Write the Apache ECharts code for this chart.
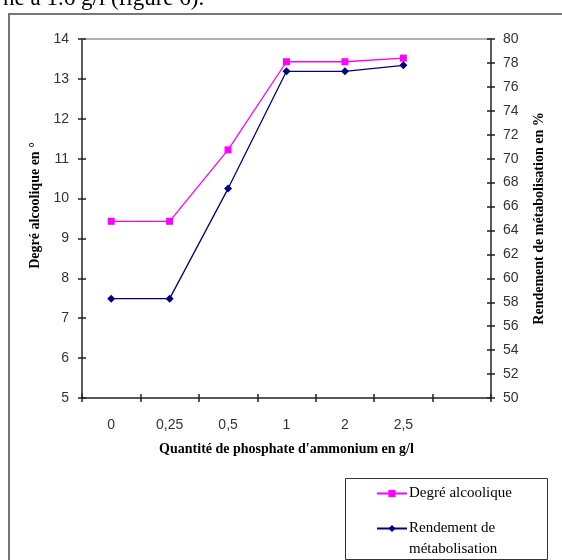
<!DOCTYPE html>
<html>
<head>
<meta charset="utf-8">
<script src="https://cdn.jsdelivr.net/npm/echarts@6/dist/echarts.min.js"></script>
<style>html,body{margin:0;padding:0;background:#fff;}#c{width:562px;height:560px;}</style>
</head>
<body>
<div id="c"></div>
<script>
const categories = ['0', '0,25', '0,5', '1', '2', '2,5', ''];
const degreAlcoolique = [9.43, 9.43, 11.22, 13.43, 13.43, 13.52];
const rendement = [58.3, 58.3, 67.5, 77.3, 77.3, 77.8];
const leftTicks = { min: 5, max: 14, interval: 1 };
const rightTicks = { min: 50, max: 80, interval: 2 };

const chart = echarts.init(document.getElementById('c'), null, { renderer: 'canvas' });
const sans = 'Liberation Sans';
const serif = 'Liberation Serif';
const gridRect = { left: 82, right: 71, top: 39, bottom: 162 };
const tickLbl = { fontFamily: sans, fontSize: 14, color: '#333' };

chart.setOption({
  animation: false,
  graphic: [
    { type: 'rect', shape: { x: 9, y: 14, width: 600, height: 600 }, style: { fill: 'none', stroke: '#777', lineWidth: 2 }, z: 0 },
    { type: 'text', left: 3, top: -13, style: { text: 'ne à 1.6 g/l (figure 6).', font: '23px "Liberation Serif"', fill: '#000' } },
    { type: 'rect', shape: { x: 345.5, y: 478.5, width: 202, height: 81 }, style: { fill: '#fff', stroke: '#333', lineWidth: 1 }, z: 1 }
  ],
  grid: [
    Object.assign({}, gridRect),
    Object.assign({}, gridRect)
  ],
  legend: {
    orient: 'vertical',
    left: 376,
    top: 486,
    width: 170,
    height: 120,
    padding: 0,
    itemGap: -1,
    itemWidth: 30,
    itemHeight: 9,
    z: 5,
    data: ['Degré alcoolique', 'Rendement de métabolisation'],
    formatter: function (n) {
      if (n === 'Degré alcoolique') return '{a|Degré alcoolique}';
      return '{e| }\n{a|Rendement de}\n{a|métabolisation}';
    },
    textStyle: {
      padding: [0, 0, 0, -3],
      rich: {
        a: { fontFamily: serif, fontSize: 15, lineHeight: 21, color: '#000' },
        e: { fontFamily: serif, fontSize: 15, lineHeight: 21 }
      }
    }
  },
  xAxis: [
    {
      gridIndex: 0, type: 'category', data: categories, position: 'bottom', boundaryGap: true,
      axisLine: { lineStyle: { color: '#222', width: 1.5 } },
      axisTick: { show: true, inside: false, length: 4, lineStyle: { color: '#222', width: 1.5 } },
      axisLabel: Object.assign({ margin: 20 }, tickLbl),
      name: "Quantité de phosphate d'ammonium en g/l",
      nameLocation: 'middle', nameGap: 44,
      nameTextStyle: { fontFamily: serif, fontWeight: 'bold', fontSize: 14, color: '#000' }
    },
    {
      gridIndex: 1, type: 'category', data: categories, position: 'bottom', boundaryGap: true,
      axisLine: { show: false },
      axisTick: { show: true, inside: true, length: 4, lineStyle: { color: '#222', width: 1.5 } },
      axisLabel: { show: false }
    },
    {
      gridIndex: 1, type: 'category', data: categories, position: 'top', boundaryGap: true,
      axisLine: { show: true, lineStyle: { color: '#999', width: 1.5 } },
      axisTick: { show: false },
      axisLabel: { show: false }
    }
  ],
  yAxis: [
    {
      gridIndex: 0, type: 'value', position: 'left', min: leftTicks.min, max: leftTicks.max, interval: leftTicks.interval,
      axisLine: { show: true, lineStyle: { color: '#222', width: 1.5 } },
      axisTick: { show: true, length: 4, lineStyle: { color: '#222', width: 1.5 } },
      splitLine: { show: false },
      axisLabel: Object.assign({ margin: 13 }, tickLbl),
      name: 'Degré alcoolique en °', nameLocation: 'middle', nameGap: 36, nameRotate: 90,
      nameTextStyle: { fontFamily: serif, fontWeight: 'bold', fontSize: 14, color: '#000', padding: [0, 0, 0, 26] }
    },
    {
      gridIndex: 0, type: 'value', position: 'right', min: rightTicks.min, max: rightTicks.max, interval: rightTicks.interval,
      axisLine: { show: true, lineStyle: { color: '#222', width: 1.5 } },
      axisTick: { show: true, length: 4, lineStyle: { color: '#222', width: 1.5 } },
      splitLine: { show: false },
      axisLabel: Object.assign({ margin: 12 }, tickLbl),
      name: 'Rendement de métabolisation en %', nameLocation: 'middle', nameGap: 41, nameRotate: 90,
      nameTextStyle: { fontFamily: serif, fontWeight: 'bold', fontSize: 14, color: '#000' }
    },
    {
      gridIndex: 1, type: 'value', position: 'left', min: leftTicks.min, max: leftTicks.max, interval: leftTicks.interval,
      axisLine: { show: false }, splitLine: { show: false }, axisLabel: { show: false },
      axisTick: { show: true, inside: true, length: 4, lineStyle: { color: '#222', width: 1.5 } }
    },
    {
      gridIndex: 1, type: 'value', position: 'right', min: rightTicks.min, max: rightTicks.max, interval: rightTicks.interval,
      axisLine: { show: false }, splitLine: { show: false }, axisLabel: { show: false },
      axisTick: { show: true, inside: true, length: 4, lineStyle: { color: '#222', width: 1.5 } }
    }
  ],
  series: [
    {
      name: 'Degré alcoolique', type: 'line', xAxisIndex: 0, yAxisIndex: 0, data: degreAlcoolique,
      symbol: 'rect', symbolSize: 7, z: 3,
      lineStyle: { color: '#ff00ff', width: 1.3 },
      itemStyle: { color: '#ff00ff' }
    },
    {
      name: 'Rendement de métabolisation', type: 'line', xAxisIndex: 0, yAxisIndex: 1, data: rendement,
      symbol: 'diamond', symbolSize: 8, z: 3,
      lineStyle: { color: '#000080', width: 1.3 },
      itemStyle: { color: '#000080' }
    }
  ]
});
</script>
</body>
</html>
